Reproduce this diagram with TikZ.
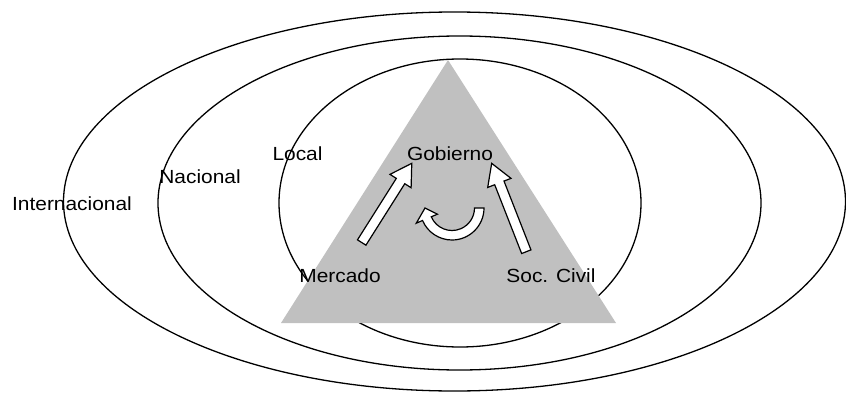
\documentclass[tikz,border=0pt]{standalone}
\usepackage{fontspec}
\setmainfont[FakeStretch=1.1]{Liberation Sans}
\begin{document}
\begin{tikzpicture}[x=1pt,y=1pt,
  lbl/.style={anchor=base, inner sep=0pt, font=\fontsize{19}{22}\selectfont},
  ring/.style={draw=black, line width=1.3pt},
  tri/.style={fill={rgb,255:red,192;green,192;blue,192}, draw=none},
  arrline/.style={draw=black, line width=1.2pt, fill=white, line join=miter},
  pics/blockarr/.style={code={
    \draw[arrline] (0,-5) -- ({#1-21},-5) -- ({#1-21},-12.5) -- (#1,0)
      -- ({#1-21},12.5) -- ({#1-21},5) -- (0,5) -- cycle;}}]
\useasboundingbox (0,0) rectangle (846,392);
% rings
\draw[ring] (454.5,190.5) ellipse [x radius=391, y radius=189.5];
\draw[ring] (459.5,189) ellipse [x radius=301.5, y radius=167];
\draw[ring] (460,189) ellipse [x radius=181, y radius=144];
% triangle
\coordinate (apex) at (448,332);
\coordinate (bl) at (281,69);
\coordinate (br) at (616,69);
\fill[tri] (apex) -- (bl) -- (br) -- cycle;
% labels
\node[lbl] (intl) at (72,182) {Internacional};
\node[lbl] (nac) at (200,208.5) {Nacional};
\node[lbl] (loc) at (297.5,232) {Local};
\node[lbl] (gob) at (450,232) {Gobierno};
\node[lbl] (mer) at (340,109.5) {Mercado};
\node[lbl] (soc) at (551,109.5) {Soc. Civil};
% block arrows
\coordinate (tailL) at (361.7,149.5);
\coordinate (tailR) at (526.3,140.3);
\pic[rotate=57.7] at (tailL) {blockarr=93.7};
\pic[rotate=111.4] at (tailR) {blockarr=94.9};
% curl arrow
\coordinate (C) at (452,184);
\draw[arrline] ([shift={(C)}]0:32) arc[start angle=0, end angle=-157, radius=32]
  -- ([shift={(C)}]-157:38.8) -- ([shift={(C)}]-180:27)
  -- ([shift={(C)}]-157:15.8) -- ([shift={(C)}]-157:22.5)
  arc[start angle=-157, end angle=0, radius=22.5] -- cycle;
\end{tikzpicture}
\end{document}
